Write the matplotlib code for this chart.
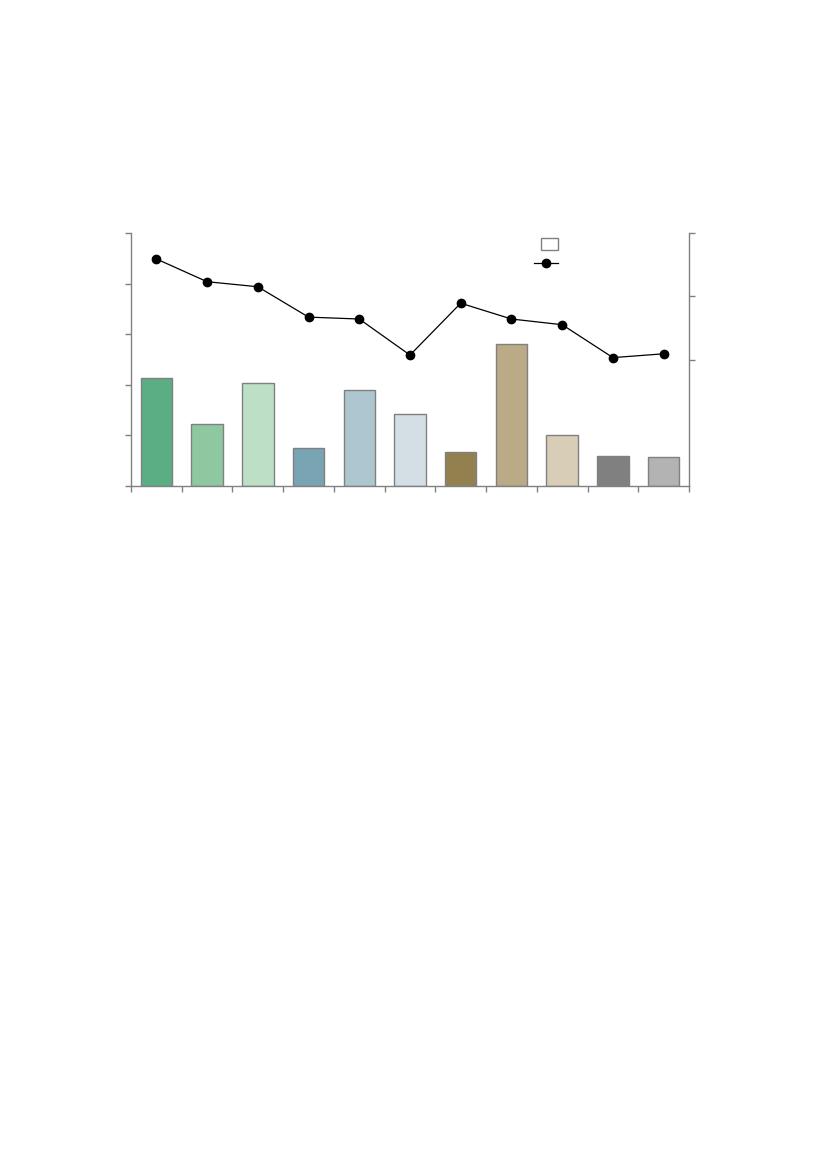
import numpy as np
import matplotlib
matplotlib.use('Agg')
import matplotlib.pyplot as plt
from matplotlib.patches import Patch, Rectangle
from matplotlib.lines import Line2D
from matplotlib.legend_handler import HandlerPatch

# values (no labels are shown in it)
categories = list(range(11))
bar_values = [2.13, 1.22, 2.03, 0.76, 1.89, 1.42, 0.67, 2.80, 1.00, 0.59, 0.57]
line_values = [3.59, 3.23, 3.15, 2.67, 2.64, 2.07, 2.89, 2.64, 2.55, 2.03, 2.09]
bar_colors = ['#5bae84', '#8ec7a0', '#bddfc5', '#79a4b4', '#adc6d0', '#d3dfe4',
              '#92804f', '#baaa86', '#d8cdb6', '#808080', '#b3b3b3']

grey = '#808080'

fig = plt.figure(figsize=(8.27, 11.69), dpi=100)
# axes box: x 131..689, y 233..486 px
ax = fig.add_axes([131/827, 1-486/1169, 558/827, 253/1169])

x = np.arange(len(categories))
ax.bar(x, bar_values, width=0.62, color=bar_colors, edgecolor=grey, linewidth=1, zorder=2)
ax.set_xlim(-0.5, len(categories)-0.5)
ax.set_ylim(0, 5)
ax.set_yticks(np.arange(0, 6, 1))
ax.set_xticks(np.arange(-0.5, len(categories), 1))

ax2 = ax.twinx()
ax2.plot(x, line_values, color='black', linewidth=0.9, marker='o', markersize=6, zorder=3)
ax2.set_ylim(0, 4)
ax2.set_yticks([2, 3, 4])

for a in (ax, ax2):
	for s in a.spines.values():
		s.set_color(grey)
		s.set_linewidth(1)
	a.spines['top'].set_visible(False)
	a.tick_params(colors=grey, length=4, width=1, labelleft=False, labelright=False, labelbottom=False)
ax.spines['right'].set_visible(False)
ax2.spines['left'].set_visible(False)
ax2.spines['bottom'].set_visible(False)

def small_patch(legend, orig_handle, xdescent, ydescent, width, height, fontsize):
	w = width*0.7
	return Rectangle((xdescent + width - w, -ydescent), w, height)

handles = [Patch(facecolor='white', edgecolor=grey, linewidth=1),
           Line2D([0], [0], color='black', linewidth=0.9, marker='o', markersize=6)]
fig.legend(handles, ['', ''], loc='upper left', bbox_to_anchor=(523/827, 1-227/1169),
           frameon=False, fontsize=10, handlelength=1.75, handleheight=0.95,
           labelspacing=0.35, handletextpad=0, borderpad=0.3,
           handler_map={Patch: HandlerPatch(patch_func=small_patch)})

fig.savefig('out.png', dpi=100)
